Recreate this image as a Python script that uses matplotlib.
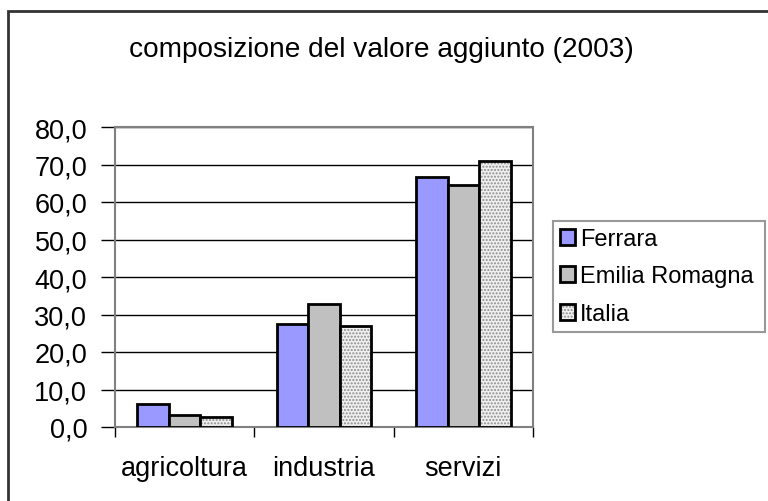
import numpy as np
import matplotlib
matplotlib.use('Agg')
import matplotlib.pyplot as plt
from matplotlib.patches import Rectangle
from matplotlib.legend_handler import HandlerTuple

plt.rcParams['font.family'] = ['Liberation Sans', 'DejaVu Sans']

categories = ['agricoltura', 'industria', 'servizi']
ferrara = [6.1, 27.4, 66.6]
emilia = [3.2, 32.7, 64.6]
italia = [2.7, 26.9, 70.9]
series_names = ['Ferrara', 'Emilia Romagna', 'Italia']
yticks = [0, 10, 20, 30, 40, 50, 60, 70, 80]
ytick_labels = ['0,0', '10,0', '20,0', '30,0', '40,0', '50,0', '60,0', '70,0', '80,0']

fig = plt.figure(figsize=(7.68, 5.02), dpi=100)
ax = fig.add_axes([115/768, 1-428/502, (533-115)/768, 300/502])

x = np.arange(len(categories))
w = 0.227
# Ferrara + Emilia Romagna: plain fills
b1 = ax.bar(x - w, ferrara, w, color='#9999ff', edgecolor='black', linewidth=2, zorder=3)
b2 = ax.bar(x, emilia, w, color='#c0c0c0', edgecolor='black', linewidth=2, zorder=3)
# Italia: stippled fill under a black outline
b3f = ax.bar(x + w, italia, w, color='#f0f0f0', edgecolor='#8c8c8c', hatch='.....',
             linewidth=0, zorder=3)
b3 = ax.bar(x + w, italia, w, fill=False, edgecolor='black', linewidth=2, zorder=4)

ax.set_ylim(0, 80)
ax.set_xlim(-0.5, 2.5)
ax.set_yticks(yticks)
ax.set_yticklabels(ytick_labels, fontsize=19.5)
ax.yaxis.grid(True, color='black', linewidth=1, zorder=1)
ax.set_axisbelow(True)

ax.set_xticks([-0.5, 0.5, 1.5, 2.5])
ax.set_xticklabels([])
ax.set_xticks(x, minor=True)
ax.set_xticklabels(categories, minor=True, fontsize=19.5)
ax.tick_params(axis='x', which='minor', length=0, pad=20)
ax.tick_params(axis='x', which='major', length=7, width=1, color='black')
ax.tick_params(axis='y', length=10, width=1, color='black', pad=10)

for s in ax.spines.values():
    s.set_color('#808080')
    s.set_linewidth(1.5)

fig.text(381/768, 1-50/502, 'composizione del valore aggiunto (2003)', fontsize=20.2,
         ha='center', va='center')

leg = ax.legend([b1, b2, (b3f, b3)], series_names, loc='center left',
                bbox_to_anchor=(553/768, 1-333/502, (765-553)/768, (333-222)/502),
                bbox_transform=fig.transFigure, mode='expand', fontsize=17,
                handler_map={tuple: HandlerTuple(ndivide=1)},
                frameon=True, fancybox=False, edgecolor='#808080',
                handlelength=0.65, handleheight=0.65, handletextpad=0.2,
                labelspacing=0.66, borderaxespad=0, borderpad=0.3)
leg.get_frame().set_linewidth(1.5)

fig.patches.append(Rectangle((8/768, -0.1), 1.0, 1-12/502+0.1, transform=fig.transFigure,
                             fill=False, edgecolor='#333333', linewidth=2))

fig.savefig('out.png', dpi=100)
